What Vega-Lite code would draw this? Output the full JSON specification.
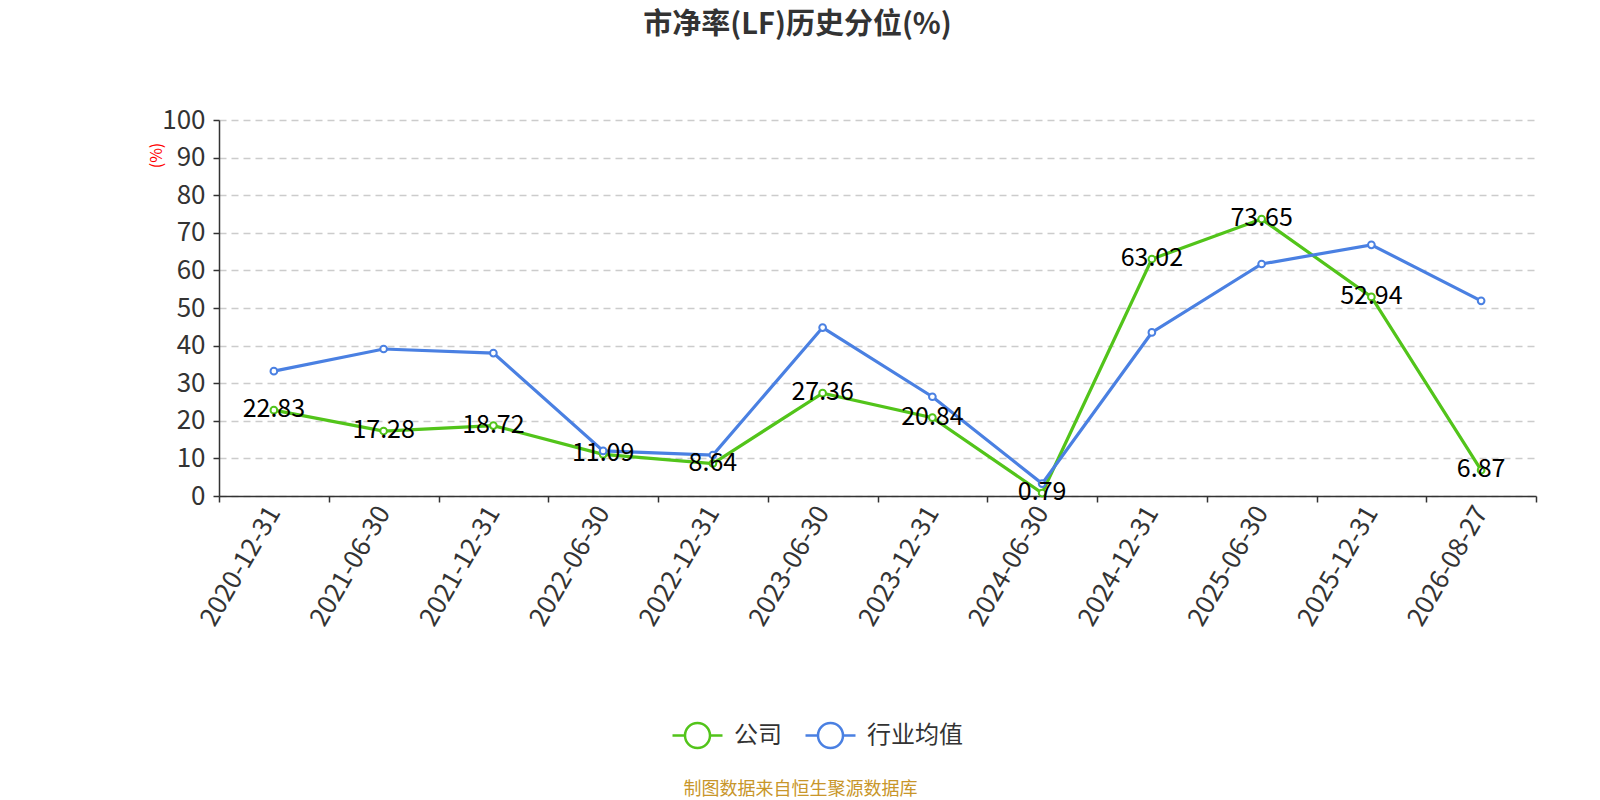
{
  "$schema": "https://vega.github.io/schema/vega-lite/v6.json",
  "width": 1317,
  "height": 376,
  "autosize": {"type": "none"},
  "padding": {"left": 219, "top": 120, "right": 64, "bottom": 304},
  "background": "white",
  "title": {
    "text": "市净率(LF)历史分位(%)",
    "anchor": "middle",
    "frame": "group",
    "orient": "top",
    "baseline": "middle",
    "offset": 72,
    "dx": -80,
    "dy": 19,
    "fontSize": 29,
    "fontWeight": "bold",
    "color": "#333333",
    "font": "Noto Sans CJK SC"
  },
  "config": {
    "view": {"stroke": null},
    "font": "Noto Sans CJK SC"
  },
  "data": {
    "values": [
      {"date": "2020-12-31", "series": "公司", "value": 22.83},
      {"date": "2021-06-30", "series": "公司", "value": 17.28},
      {"date": "2021-12-31", "series": "公司", "value": 18.72},
      {"date": "2022-06-30", "series": "公司", "value": 11.09},
      {"date": "2022-12-31", "series": "公司", "value": 8.64},
      {"date": "2023-06-30", "series": "公司", "value": 27.36},
      {"date": "2023-12-31", "series": "公司", "value": 20.84},
      {"date": "2024-06-30", "series": "公司", "value": 0.79},
      {"date": "2024-12-31", "series": "公司", "value": 63.02},
      {"date": "2025-06-30", "series": "公司", "value": 73.65},
      {"date": "2025-12-31", "series": "公司", "value": 52.94},
      {"date": "2026-08-27", "series": "公司", "value": 6.87},
      {"date": "2020-12-31", "series": "行业均值", "value": 33.2},
      {"date": "2021-06-30", "series": "行业均值", "value": 39.1},
      {"date": "2021-12-31", "series": "行业均值", "value": 38.0},
      {"date": "2022-06-30", "series": "行业均值", "value": 12.0},
      {"date": "2022-12-31", "series": "行业均值", "value": 10.9},
      {"date": "2023-06-30", "series": "行业均值", "value": 44.8},
      {"date": "2023-12-31", "series": "行业均值", "value": 26.4},
      {"date": "2024-06-30", "series": "行业均值", "value": 3.3},
      {"date": "2024-12-31", "series": "行业均值", "value": 43.5},
      {"date": "2025-06-30", "series": "行业均值", "value": 61.7},
      {"date": "2025-12-31", "series": "行业均值", "value": 66.8},
      {"date": "2026-08-27", "series": "行业均值", "value": 51.9}
    ]
  },
  "encoding": {
    "x": {
      "field": "date",
      "type": "nominal",
      "sort": null,
      "scale": {"type": "band", "paddingInner": 0, "paddingOuter": 0},
      "axis": {
        "title": "制图数据来自恒生聚源数据库",
        "titleColor": "#c8962a",
        "titleFontSize": 18,
        "titleFontWeight": "normal",
        "titleAnchor": null,
        "titleAlign": "center",
        "titleBaseline": "middle",
        "titleX": 581,
        "titleY": 293,
        "labelAngle": -60,
        "labelAlign": "right",
        "labelBaseline": "middle",
        "labelFontSize": 26,
        "labelColor": "#333333",
        "labelPadding": 6,
        "tickBand": "extent",
        "tickColor": "#333333",
        "tickSize": 6,
        "tickWidth": 1.5,
        "domainColor": "#333333",
        "domainWidth": 1.5,
        "grid": false
      }
    },
    "y": {
      "field": "value",
      "type": "quantitative",
      "scale": {"domain": [0, 100], "nice": false},
      "axis": {
        "title": "(%)",
        "titleColor": "#ff0000",
        "titleFontSize": 16,
        "titleFontWeight": "normal",
        "titleAngle": -90,
        "titleAnchor": null,
        "titleAlign": "center",
        "titleBaseline": "middle",
        "titleX": -63,
        "titleY": 35,
        "values": [0, 10, 20, 30, 40, 50, 60, 70, 80, 90, 100],
        "labelFontSize": 26,
        "labelColor": "#333333",
        "labelPadding": 8,
        "tickColor": "#333333",
        "tickSize": 6,
        "tickWidth": 1.5,
        "domainColor": "#333333",
        "domainWidth": 1.5,
        "grid": true,
        "gridColor": "#cccccc",
        "gridDash": [7, 5],
        "gridWidth": 1.5
      }
    }
  },
  "layer": [
    {
      "mark": {"type": "line", "strokeWidth": 3.2},
      "encoding": {
        "color": {
          "field": "series",
          "type": "nominal",
          "scale": {"domain": ["公司", "行业均值"], "range": ["#52c41a", "#4a80e2"]},
          "legend": {
            "title": null,
            "orient": "none",
            "direction": "horizontal",
            "legendX": 452,
            "legendY": 589,
            "symbolType": "M-1,0L-0.5,0M0.5,0L1,0M-0.5,0A0.5,0.5,0,1,1,0.5,0A0.5,0.5,0,1,1,-0.5,0",
            "symbolSize": 2500,
            "symbolStrokeWidth": 2.5,
            "labelFontSize": 24,
            "labelColor": "#333333",
            "labelOffset": 10,
            "columnPadding": 18
          }
        }
      }
    },
    {
      "mark": {"type": "point", "filled": true, "fill": "#ffffff", "strokeWidth": 2, "size": 45, "opacity": 1},
      "encoding": {
        "stroke": {"field": "series", "type": "nominal", "scale": {"domain": ["公司", "行业均值"], "range": ["#52c41a", "#4a80e2"]}, "legend": null}
      }
    },
    {
      "transform": [{"filter": "datum.series === '公司'"}],
      "mark": {"type": "text", "fontSize": 25, "color": "#000000", "baseline": "middle", "dy": -1},
      "encoding": {
        "text": {"field": "value", "type": "quantitative", "format": ".2f"}
      }
    }
  ]
}
